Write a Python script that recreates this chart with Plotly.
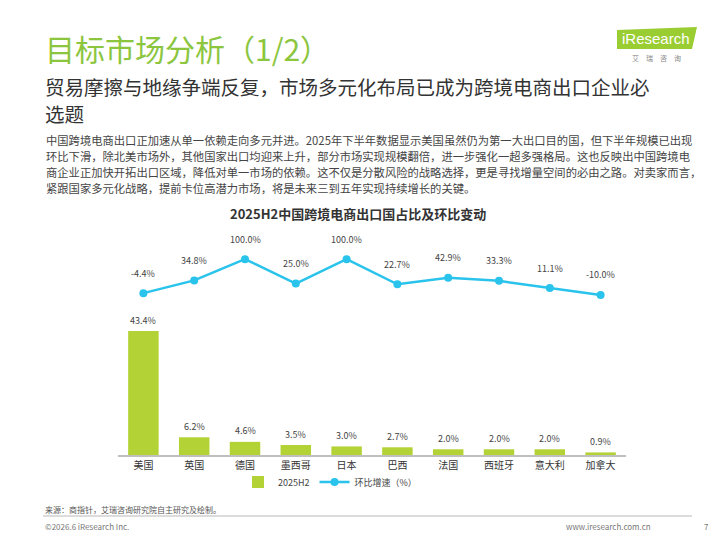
import plotly.graph_objects as go

categories = ["美国", "英国", "德国", "墨西哥", "日本", "巴西", "法国", "西班牙", "意大利", "加拿大"]
share_2025h2 = [43.4, 6.2, 4.6, 3.5, 3.0, 2.7, 2.0, 2.0, 2.0, 0.9]
qoq_growth = [-4.4, 34.8, 100.0, 25.0, 100.0, 22.7, 42.9, 33.3, 11.1, -10.0]

subtitle_lines = [
    "贸易摩擦与地缘争端反复，市场多元化布局已成为跨境电商出口企业必",
    "选题",
]
body_lines = [
    "中国跨境电商出口正加速从单一依赖走向多元并进。2025年下半年数据显示美国虽然仍为第一大出口目的国，但下半年规模已出现",
    "环比下滑，除北美市场外，其他国家出口均迎来上升，部分市场实现规模翻倍，进一步强化一超多强格局。这也反映出中国跨境电",
    "商企业正加快开拓出口区域，降低对单一市场的依赖。这不仅是分散风险的战略选择，更是寻找增量空间的必由之路。对卖家而言，",
    "紧跟国家多元化战略，提前卡位高潜力市场，将是未来三到五年实现持续增长的关键。",
]

BAR_COLOR = "#B2D235"
LINE_COLOR = "#29C3EC"
CJK = "Noto Sans CJK SC"

# plot area geometry (pixels)
L, R, T, B = 118, 94, 250, 85
W, H = 720, 540
PW, PH = W - L - R, H - T - B


def xp(px):
    return (px - L) / PW


def yp(py):
    return (H - B - py) / PH


fig = go.Figure()
fig.add_trace(go.Bar(
    x=categories, y=share_2025h2, name="2025H2",
    marker=dict(color=BAR_COLOR, line=dict(width=0)),
    width=0.6, yaxis="y",
))
fig.add_trace(go.Scatter(
    x=categories, y=qoq_growth, name="环比增速（%）",
    mode="lines+markers", yaxis="y2",
    line=dict(color=LINE_COLOR, width=2.5),
    marker=dict(color=LINE_COLOR, size=8),
))

annotations = []
for c, v in zip(categories, share_2025h2):
    annotations.append(dict(x=c, y=v, xref="x", yref="y", text=f"{v:.1f}%",
                            showarrow=False, yshift=11,
                            font=dict(family=CJK, size=9, color="#444444")))
for c, v in zip(categories, qoq_growth):
    annotations.append(dict(x=c, y=v, xref="x", yref="y2", text=f"{v:.1f}%",
                            showarrow=False, yshift=20,
                            font=dict(family=CJK, size=9, color="#444444")))

for i, line in enumerate(subtitle_lines):
    annotations.append(dict(x=xp(43), y=yp(86 + 27 * i), xref="paper", yref="paper",
                            xanchor="left", yanchor="middle", text=line, showarrow=False,
                            font=dict(family=CJK, size=19.5, color="#333333")))

for i, line in enumerate(body_lines):
    annotations.append(dict(x=xp(44), y=yp(140 + 16 * i), xref="paper", yref="paper",
                            xanchor="left", yanchor="middle", text=line, showarrow=False,
                            font=dict(family=CJK, size=11.3, color="#444444")))

# page texts
annotations += [
    dict(x=xp(43), y=yp(48), xref="paper", yref="paper", xanchor="left", yanchor="middle",
         text="目标市场分析（1/2）", showarrow=False,
         font=dict(family=CJK, size=30, color="#8CC63F")),
    dict(x=xp(358), y=yp(213), xref="paper", yref="paper", xanchor="center", yanchor="middle",
         text="<b>2025H2中国跨境电商出口国占比及环比变动</b>", showarrow=False,
         font=dict(family=CJK, size=13, color="#333333")),
    dict(x=xp(43), y=yp(509), xref="paper", yref="paper", xanchor="left", yanchor="middle",
         text="来源：商指针，艾瑞咨询研究院自主研究及绘制。", showarrow=False,
         font=dict(family=CJK, size=8, color="#555555")),
    dict(x=xp(43), y=yp(526), xref="paper", yref="paper", xanchor="left", yanchor="middle",
         text="©2026.6 iResearch Inc.", showarrow=False,
         font=dict(family=CJK, size=8, color="#777777")),
    dict(x=xp(653), y=yp(526), xref="paper", yref="paper", xanchor="right", yanchor="middle",
         text="www.iresearch.com.cn", showarrow=False,
         font=dict(family=CJK, size=8, color="#777777")),
    dict(x=xp(706), y=yp(526), xref="paper", yref="paper", xanchor="center", yanchor="middle",
         text="7", showarrow=False,
         font=dict(family=CJK, size=8, color="#777777")),
    dict(x=xp(656), y=yp(38), xref="paper", yref="paper", xanchor="center", yanchor="middle",
         text="iResearch", showarrow=False,
         font=dict(family="Liberation Sans Narrow, Liberation Sans", size=15, color="#FFFFFF")),
    dict(x=xp(656), y=yp(58), xref="paper", yref="paper", xanchor="center", yanchor="middle",
         text="艾　瑞　咨　询", showarrow=False,
         font=dict(family=CJK, size=7, color="#888888")),
]

shapes = [
    # separator line above footer
    dict(type="line", xref="paper", yref="paper", x0=xp(43), x1=xp(692), y0=yp(516), y1=yp(516),
         line=dict(color="#D0D0D0", width=1.5)),
    # logo background
    dict(type="path", xref="paper", yref="paper",
         path=(f"M {xp(617)},{yp(49)} L {xp(692)},{yp(49)} L {xp(697)},{yp(27)} "
               f"L {xp(617)},{yp(30)} Z"),
         fillcolor="#9ACD32", line=dict(width=0)),
]

fig.update_layout(
    width=W, height=H,
    margin=dict(l=L, r=R, t=T, b=B, pad=0),
    paper_bgcolor="white", plot_bgcolor="white",
    font=dict(family=CJK, color="#333333"),
    bargap=0.4,
    xaxis=dict(type="category", range=[-0.5, 9.5], showgrid=False, zeroline=False,
               showline=True, linecolor="#BFBFBF", linewidth=1.5, ticks="",
               tickfont=dict(family=CJK, size=10, color="#333333")),
    yaxis=dict(range=[0, PH / 2.857], visible=False, fixedrange=True),
    yaxis2=dict(range=[-501, 128], overlaying="y", visible=False),
    showlegend=True,
    legend=dict(orientation="h", x=xp(330), xanchor="center", y=yp(482), yanchor="middle",
                font=dict(family=CJK, size=9, color="#444444"), bgcolor="rgba(0,0,0,0)",
                itemwidth=30, tracegroupgap=0),
    annotations=annotations,
    shapes=shapes,
)

fig.write_html("out.html")
